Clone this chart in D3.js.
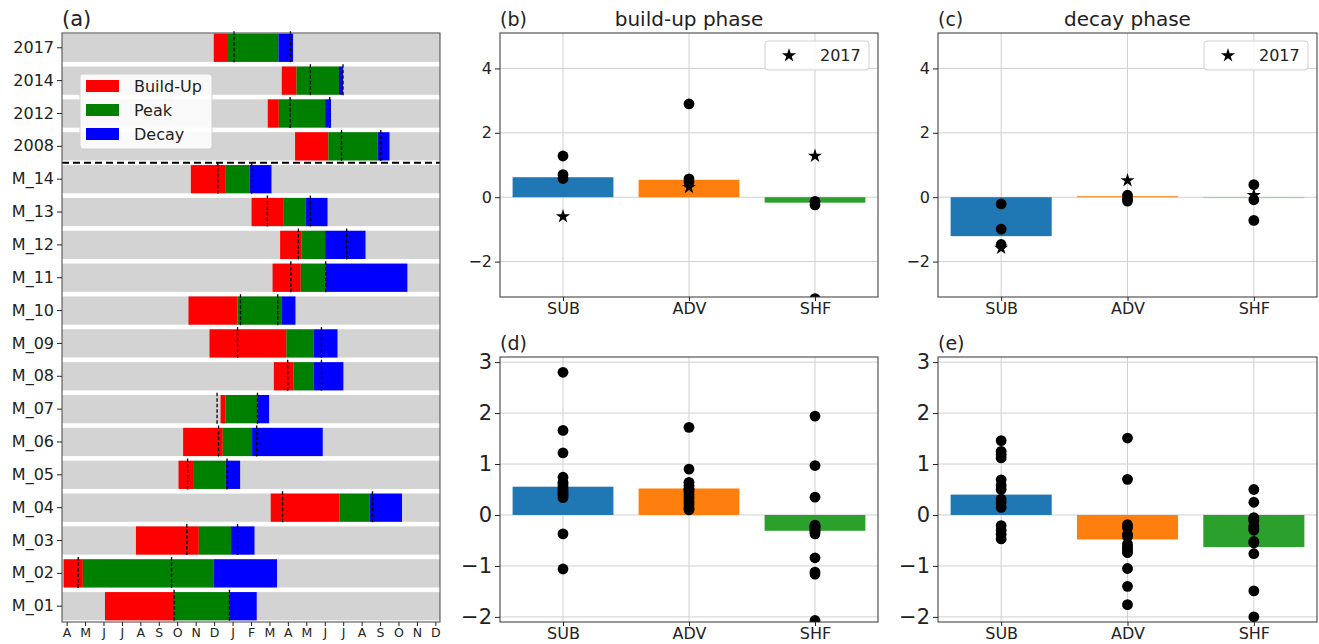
<!DOCTYPE html>
<html>
<head>
<meta charset="utf-8">
<script src="https://d3js.org/d3.v7.min.js"></script>
<style>
  body { margin: 0; background: #fff; }
  svg { font-family: "DejaVu Sans", sans-serif; }
</style>
</head>
<body>
<script>
// panel (a): phase timing, months counted from 1 April (0 = Apr, 12 = next Apr)
var months = ["A","M","J","J","A","S","O","N","D","J","F","M","A","M","J","J","A","S","O","N","D"];
var rows = ["2017","2014","2012","2008","M_14","M_13","M_12","M_11","M_10","M_09","M_08","M_07","M_06","M_05","M_04","M_03","M_02","M_01"];
var buildStart = [7.98,11.67,10.91,12.39,6.74,10.03,11.58,11.17,6.61,7.75,11.24,8.35,6.32,6.07,11.07,3.76,-0.16,2.08];
var peakStart  = [8.70,12.47,11.51,14.20,8.60,11.78,12.75,12.70,9.27,11.92,12.30,8.62,8.47,6.86,14.81,7.17,0.88,5.83];
var decayStart = [11.49,14.77,14.02,16.87,9.93,12.97,14.02,14.04,11.65,13.39,13.39,10.35,10.06,8.63,16.44,8.92,7.98,8.83];
var decayEnd   = [12.28,14.99,14.34,17.51,11.11,14.15,16.21,18.48,12.41,14.69,15.01,10.98,13.89,9.41,18.19,10.19,11.41,10.31];
var markA      = [9.08,13.22,12.12,14.91,8.20,10.89,12.57,12.16,9.43,9.27,11.99,8.16,8.24,6.56,11.71,6.52,0.63,5.83];
var markB      = [12.14,14.99,14.27,17.04,10.04,13.22,15.19,14.05,11.45,13.82,13.82,10.35,10.31,8.70,16.59,9.27,5.69,8.83];
var phases = ["Build-Up","Peak","Decay"];
var phaseColors = ["#ff0000","#008000","#0000ff"];

// panels (b)-(e)
var terms = ["SUB","ADV","SHF"];
var barColors = ["#1f77b4","#ff7f0e","#2ca02c"];

var barsB = [0.62, 0.54, -0.17];
var dotsB = [[1.28,0.70,0.58],[2.90,0.57,0.47],[-0.13,-0.24,-3.15]];
var starB = [-0.60, 0.31, 1.28];

var barsC = [-1.21, 0.03, -0.01];
var dotsC = [[-0.21,-0.99,-1.47],[0.06,-0.05,-0.12],[0.39,-0.08,-0.72]];
var starC = [-1.58, 0.52, 0.06];

var barsD = [0.555, 0.52, -0.31];
var dotsD = [
  [2.80,1.66,1.22,0.74,0.64,0.60,0.55,0.50,0.46,0.42,0.38,0.34,-0.37,-1.06],
  [1.72,0.90,0.64,0.58,0.52,0.46,0.40,0.35,0.30,0.25,0.20,0.14,0.10,0.50],
  [1.94,0.97,0.35,-0.20,-0.24,-0.27,-0.30,-0.33,-0.37,-0.84,-1.12,-1.16,-2.07,-0.22]
];

var barsE = [0.40, -0.48, -0.63];
var dotsE = [
  [1.46,1.25,1.18,1.12,0.69,0.58,0.50,0.31,0.24,0.15,-0.21,-0.30,-0.38,-0.47],
  [1.51,0.70,-0.19,-0.38,-0.57,-0.66,-0.74,-1.05,-1.40,-1.76,-0.42,-0.62,-0.25,-0.70],
  [0.50,0.25,-0.05,-0.12,-0.27,-0.52,-0.76,-1.49,-2.00,-0.10,-0.22,-0.30,-0.55,-0.08]
];

var W = 1319, H = 644;
var svg = d3.select("body").append("svg").attr("width", W).attr("height", H);

function styleAxis(g, size) {
  g.selectAll("path.domain").remove();
  g.selectAll(".tick line").attr("stroke", "#222");
  g.selectAll(".tick text").attr("fill", "#222").style("font-size", size + "px").style("font-family", "DejaVu Sans");
}

// ---------- panel (a) ----------
var aL = 62, aR = 440, aT = 33, aB = 622;
var xa = d3.scaleLinear().domain([-0.25, 20.25]).range([aL, aR]);
var ya = d3.scaleBand().domain(rows).range([aT, aB - 1]).paddingInner(0.14).paddingOuter(0.02);
var ga = svg.append("g");

ga.selectAll("rect.bg").data(rows).enter().append("rect")
  .attr("x", aL).attr("width", aR - aL)
  .attr("y", function(d){ return ya(d); })
  .attr("height", ya.bandwidth())
  .attr("fill", "#d3d3d3");

var segs = [];
rows.forEach(function(r, i){
  var b = [buildStart[i], peakStart[i], decayStart[i], decayEnd[i]];
  for (var k = 0; k < 3; k++) segs.push({row: r, x0: b[k], x1: b[k+1], c: phaseColors[k]});
});
ga.selectAll("rect.seg").data(segs).enter().append("rect")
  .attr("x", function(d){ return xa(d.x0); })
  .attr("width", function(d){ return xa(d.x1) - xa(d.x0); })
  .attr("y", function(d){ return ya(d.row); })
  .attr("height", ya.bandwidth())
  .attr("fill", function(d){ return d.c; });

var marks = [];
rows.forEach(function(r, i){ marks.push({row: r, x: markA[i]}); marks.push({row: r, x: markB[i]}); });
var step = ya.step();
ga.selectAll("line.mark").data(marks).enter().append("line")
  .attr("x1", function(d){ return xa(d.x); }).attr("x2", function(d){ return xa(d.x); })
  .attr("y1", function(d){ return ya(d.row) + ya.bandwidth()/2 - step/2; })
  .attr("y2", function(d){ return ya(d.row) + ya.bandwidth()/2 + step/2; })
  .attr("stroke", "#000").attr("stroke-width", 1.3).attr("stroke-dasharray", "3.5,2");

// separator between observed years and models
var sepY = (ya("2008") + ya.bandwidth() + ya("M_14")) / 2;
ga.append("line").attr("x1", aL).attr("x2", aR).attr("y1", sepY).attr("y2", sepY)
  .attr("stroke", "#000").attr("stroke-width", 2.2).attr("stroke-dasharray", "7,4");

ga.append("rect").attr("x", aL).attr("y", aT).attr("width", aR - aL).attr("height", aB - aT)
  .attr("fill", "none").attr("stroke", "#444").attr("stroke-width", 1);

var axYa = ga.append("g").attr("transform", "translate(" + aL + ",0)")
  .call(d3.axisLeft(ya).tickSize(5).tickPadding(3));
styleAxis(axYa, 16);
var axXa = ga.append("g").attr("transform", "translate(0," + aB + ")")
  .call(d3.axisBottom(xa).tickValues(d3.range(months.length)).tickFormat(function(i){ return months[i]; }).tickSize(4).tickPadding(2));
styleAxis(axXa, 12.5);

// legend (a)
var lg = ga.append("g");
lg.append("rect").attr("x", 80).attr("y", 74).attr("width", 132).attr("height", 75).attr("rx", 3)
  .attr("fill", "#fff").attr("fill-opacity", 0.85).attr("stroke", "#d0d0d0");
phases.forEach(function(p, i){
  var cy = 86 + i * 24;
  lg.append("rect").attr("x", 86).attr("y", cy - 6).attr("width", 33).attr("height", 12).attr("fill", phaseColors[i]);
  lg.append("text").attr("x", 134).attr("y", cy + 6).style("font-size", "16px").attr("fill", "#222").text(p);
});
svg.append("text").attr("x", aL).attr("y", 26).style("font-size", "21px").attr("fill", "#222").text("(a)");

// ---------- bar panels ----------
var clipN = 0;
function barPanel(o) {
  var x = d3.scaleLinear().domain([-0.5, 2.5]).range([o.l, o.r]);
  var y = d3.scaleLinear().domain(o.dom).range([o.b, o.t]);
  var g = svg.append("g");
  var id = "clip" + (clipN++);
  g.append("clipPath").attr("id", id).append("rect")
    .attr("x", o.l).attr("y", o.t).attr("width", o.r - o.l).attr("height", o.b - o.t);

  // grid
  g.selectAll("line.gy").data(o.ticks).enter().append("line")
    .attr("x1", o.l).attr("x2", o.r).attr("y1", function(d){ return y(d); }).attr("y2", function(d){ return y(d); })
    .attr("stroke", "#d0d0d0").attr("stroke-width", 1);
  g.selectAll("line.gx").data(terms).enter().append("line")
    .attr("x1", function(d, i){ return x(i); }).attr("x2", function(d, i){ return x(i); })
    .attr("y1", o.t).attr("y2", o.b)
    .attr("stroke", "#d0d0d0").attr("stroke-width", 1);

  g.selectAll("rect.bar").data(o.bars).enter().append("rect")
    .attr("x", function(d, i){ return x(i - 0.4); })
    .attr("width", x(0.4) - x(-0.4))
    .attr("y", function(d){ return y(Math.max(0, d)); })
    .attr("height", function(d){ return Math.max(1, Math.abs(y(d) - y(0))); })
    .attr("fill", function(d, i){ return barColors[i]; })
    .attr("fill-opacity", function(d){ return Math.abs(d) < 0.02 ? 0.35 : 1; });

  var pts = g.append("g").attr("clip-path", "url(#" + id + ")");
  var dots = [];
  o.dots.forEach(function(arr, i){ arr.forEach(function(v){ dots.push({i: i, v: v}); }); });
  pts.selectAll("circle").data(dots).enter().append("circle")
    .attr("cx", function(d){ return x(d.i); }).attr("cy", function(d){ return y(d.v); })
    .attr("r", 5.4).attr("fill", "#000");
  if (o.stars) {
    pts.selectAll("path.star").data(o.stars).enter().append("path")
      .attr("transform", function(d, i){ return "translate(" + x(i) + "," + y(d) + ")"; })
      .attr("d", d3.symbol().type(d3.symbolStar).size(62)).attr("fill", "#000");
  }

  g.append("rect").attr("x", o.l).attr("y", o.t).attr("width", o.r - o.l).attr("height", o.b - o.t)
    .attr("fill", "none").attr("stroke", "#333").attr("stroke-width", 1);

  var ay = g.append("g").attr("transform", "translate(" + o.l + ",0)")
    .call(d3.axisLeft(y).tickValues(o.ticks).tickFormat(function(d){ return d < 0 ? "\u2212" + (-d) : d; }).tickSize(5).tickPadding(3));
  styleAxis(ay, o.yfont);
  var ax = g.append("g").attr("transform", "translate(0," + o.b + ")")
    .call(d3.axisBottom(x).tickValues([0, 1, 2]).tickFormat(function(i){ return terms[i]; }).tickSize(4).tickPadding(2));
  styleAxis(ax, 16);

  g.append("text").attr("x", o.l).attr("y", o.t - 7).style("font-size", "19px").attr("fill", "#222").text(o.label);
  if (o.title) {
    g.append("text").attr("x", (o.l + o.r) / 2).attr("y", o.t - 7).attr("text-anchor", "middle")
      .style("font-size", "20px").attr("fill", "#222").text(o.title);
  }
  if (o.stars) {
    var lx = o.r - 113, ly = o.t + 8;
    g.append("rect").attr("x", lx).attr("y", ly).attr("width", 104).attr("height", 29).attr("rx", 3)
      .attr("fill", "#fff").attr("fill-opacity", 0.85).attr("stroke", "#d0d0d0");
    g.append("path").attr("transform", "translate(" + (lx + 24) + "," + (ly + 14.5) + ")")
      .attr("d", d3.symbol().type(d3.symbolStar).size(62)).attr("fill", "#000");
    g.append("text").attr("x", lx + 55).attr("y", ly + 20).style("font-size", "16px").attr("fill", "#222").text("2017");
  }
}

barPanel({l: 500, r: 878, t: 33, b: 297, dom: [-3.1, 5.1], ticks: [-2, 0, 2, 4], yfont: 16,
  bars: barsB, dots: dotsB, stars: starB, label: "(b)", title: "build-up phase"});
barPanel({l: 938, r: 1317, t: 33, b: 297, dom: [-3.1, 5.1], ticks: [-2, 0, 2, 4], yfont: 16,
  bars: barsC, dots: dotsC, stars: starC, label: "(c)", title: "decay phase"});
barPanel({l: 500, r: 878, t: 357, b: 622, dom: [-2.1, 3.1], ticks: [-2, -1, 0, 1, 2, 3], yfont: 21,
  bars: barsD, dots: dotsD, label: "(d)"});
barPanel({l: 938, r: 1317, t: 357, b: 622, dom: [-2.1, 3.1], ticks: [-2, -1, 0, 1, 2, 3], yfont: 21,
  bars: barsE, dots: dotsE, label: "(e)"});
</script>
</body>
</html>
